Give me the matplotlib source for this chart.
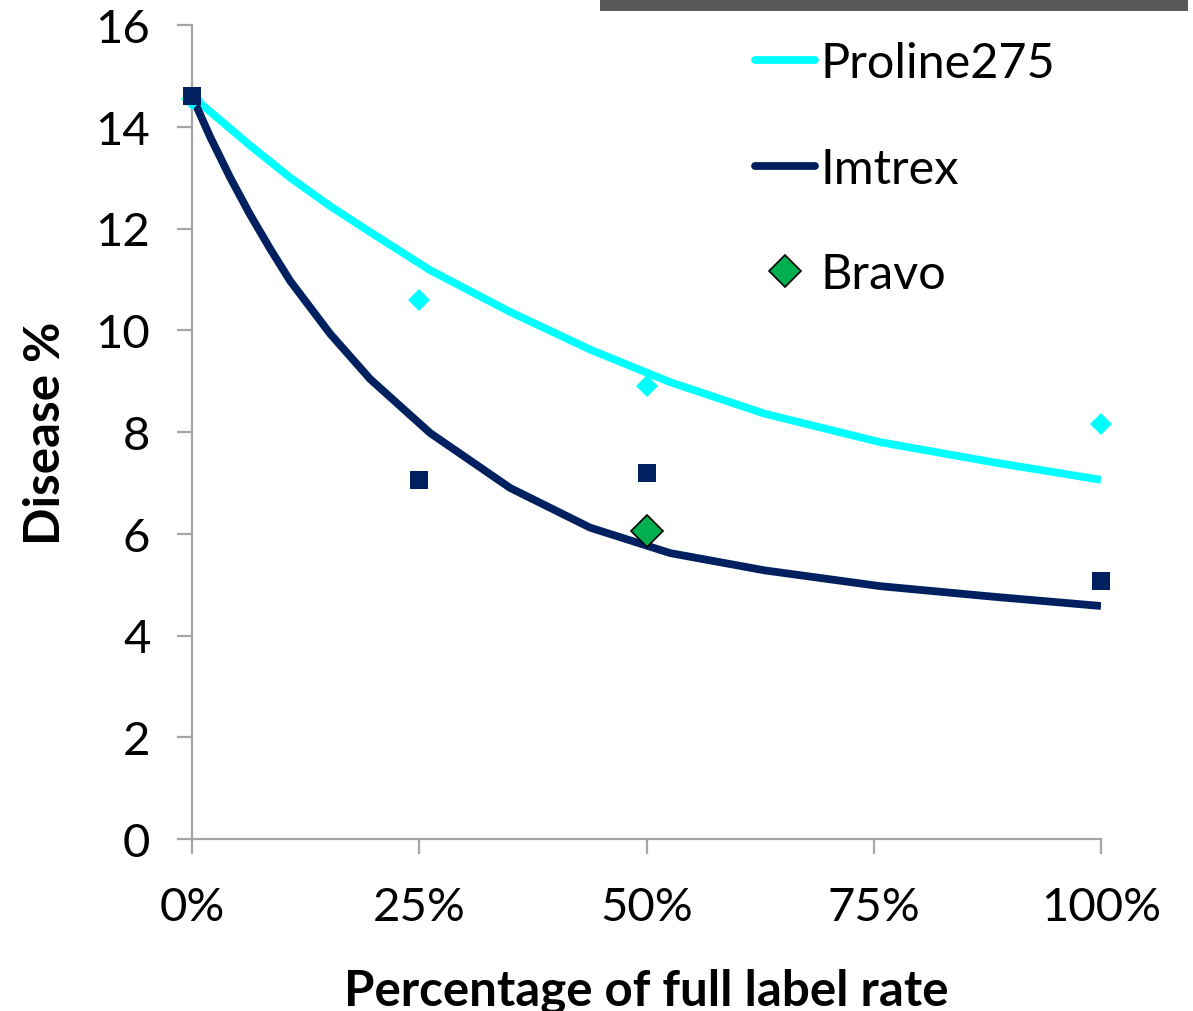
import matplotlib
matplotlib.use("Agg")
import matplotlib.pyplot as plt
from matplotlib.lines import Line2D
from matplotlib.patches import Rectangle

plt.rcParams['font.family'] = ['Lato', 'DejaVu Sans']

# Observed data points
prol_x = [0.0, 0.25, 0.5, 1.0]
prol_y = [14.55, 10.6, 8.9, 8.15]
imt_x = [0.0, 0.25, 0.5, 1.0]
imt_y = [14.6, 7.05, 7.2, 5.07]
bravo_x = [0.5]
bravo_y = [6.05]

# Fitted trend curves
prol_fit_x = [0.0, 0.064, 0.108, 0.152, 0.196, 0.262, 0.350, 0.438, 0.526, 0.630, 0.757, 0.883, 1.0]
prol_fit_y = [14.6, 13.63, 13.0, 12.44, 11.93, 11.18, 10.36, 9.62, 8.98, 8.36, 7.80, 7.40, 7.06]
imt_fit_x = [0.0, 0.020, 0.042, 0.064, 0.086, 0.108, 0.152, 0.196, 0.262, 0.350, 0.438, 0.526, 0.630, 0.757, 0.883, 1.0]
imt_fit_y = [14.6, 13.80, 13.00, 12.27, 11.60, 10.97, 9.93, 9.04, 7.98, 6.90, 6.12, 5.62, 5.28, 4.97, 4.76, 4.58]

x_ticks = [0.0, 0.25, 0.5, 0.75, 1.0]
x_tick_labels = ['0%', '25%', '50%', '75%', '100%']
y_ticks = [0, 2, 4, 6, 8, 10, 12, 14, 16]

CYAN = '#00FFFF'
NAVY = '#002060'
GREEN = '#00B050'
GRAY = '#A6A6A6'

W, H = 1193, 1012
fig = plt.figure(figsize=(W / 100, H / 100), dpi=100)
ax = fig.add_axes([192 / W, 1 - 840 / H, (1101 - 192) / W, (840 - 26) / H])

LW = 5.6
ax.plot(prol_fit_x, prol_fit_y, color=CYAN, lw=LW, solid_capstyle='butt',
        solid_joinstyle='round', zorder=2)
ax.plot(imt_fit_x, imt_fit_y, color=NAVY, lw=LW, solid_capstyle='butt',
        solid_joinstyle='round', zorder=2)
ax.plot(prol_x, prol_y, linestyle='none', marker='D', markersize=11, color=CYAN,
        markeredgewidth=0, zorder=3, clip_on=False)
ax.plot(imt_x, imt_y, linestyle='none', marker='s', markersize=12.5, color=NAVY,
        markeredgewidth=0, zorder=4, clip_on=False)
ax.plot(bravo_x, bravo_y, linestyle='none', marker='D', markersize=16, color=GREEN,
        markeredgecolor='black', markeredgewidth=1.2, zorder=5, clip_on=False)

ax.set_xlim(0, 1.0)
ax.set_ylim(0, 16)
ax.set_xticks(x_ticks)
ax.set_xticklabels(x_tick_labels)
ax.set_yticks(y_ticks)

for s in ['top', 'right']:
    ax.spines[s].set_visible(False)
for s in ['left', 'bottom']:
    ax.spines[s].set_color(GRAY)
    ax.spines[s].set_linewidth(1.6)
ax.tick_params(axis='both', direction='out', length=11, width=1.6, color=GRAY,
               labelsize=34, labelcolor='black')
ax.tick_params(axis='y', pad=19)
ax.tick_params(axis='x', pad=23)

ax.set_xlabel('Percentage of full label rate', fontsize=35.5, fontweight='bold', labelpad=28)
ax.set_ylabel('Disease %', fontsize=35.5, fontweight='bold', labelpad=20)

handles = [
    Line2D([], [], color=CYAN, lw=LW, solid_capstyle='round'),
    Line2D([], [], color=NAVY, lw=LW, solid_capstyle='round'),
    Line2D([], [], linestyle='none', marker='D', markersize=16, color=GREEN,
           markeredgecolor='black', markeredgewidth=1.2),
]
leg = fig.legend(handles, ['Proline275', 'Imtrex', 'Bravo'],
                 loc='upper left', bbox_to_anchor=(755 / W, 1 - 42 / H),
                 frameon=False, fontsize=35, handlelength=1.23, handletextpad=0.12,
                 labelspacing=1.27, borderpad=0, borderaxespad=0)

fig.patches.append(Rectangle((600 / W, 1 - 12 / H), (1188 - 600) / W, 12 / H,
                             transform=fig.transFigure, facecolor='#595959',
                             edgecolor='none'))

fig.savefig('out.png', dpi=100)
